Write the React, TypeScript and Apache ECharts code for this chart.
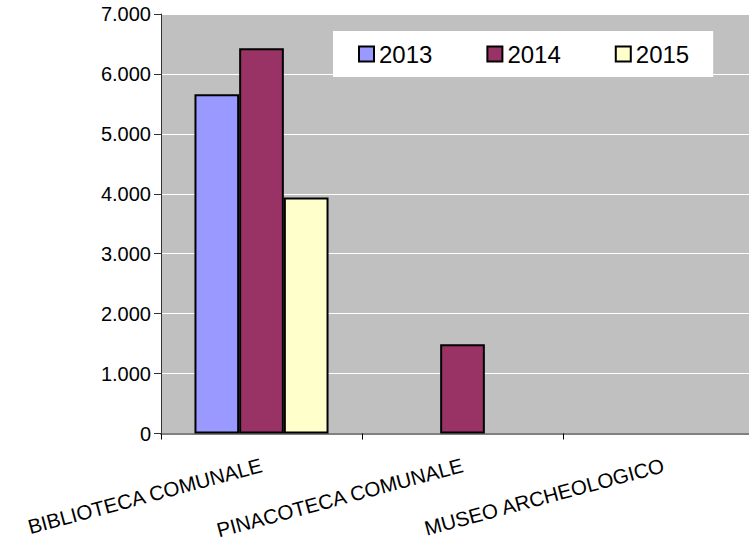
import React, { useEffect, useRef } from "react";
import * as echarts from "echarts";

const categories = ["BIBLIOTECA COMUNALE", "PINACOTECA COMUNALE", "MUSEO ARCHEOLOGICO"];
const seriesNames = ["2013", "2014", "2015"];
const values2013 = [5660, null, null];
const values2014 = [6430, 1490, null];
const values2015 = [3940, null, null];
const colors = ["#9999FF", "#993366", "#FFFFCC"];

const fmt = (v: number) => String(v).replace(/\B(?=(\d{3})+(?!\d))/g, ".");

export default function App() {
  const ref = useRef<HTMLDivElement>(null);
  useEffect(() => {
    if (!ref.current) return;
    const chart = echarts.init(ref.current, null, { renderer: "svg" });
    const data = [values2013, values2014, values2015];
    chart.setOption({
      animation: false,
      textStyle: { fontFamily: "Liberation Sans, Arial, sans-serif", color: "#000" },
      grid: {
        left: 161,
        top: 14,
        width: 603,
        height: 419.5,
        outerBoundsMode: "none",
        containLabel: false,
        show: true,
        backgroundColor: "#C0C0C0",
        borderWidth: 0,
      },
      legend: {
        left: 333,
        top: 31,
        padding: [11, 24, 11, 25],
        backgroundColor: "#fff",
        itemGap: 54,
        itemWidth: 15,
        itemHeight: 15,
        icon: "rect",
        textStyle: { fontSize: 24, color: "#000", fontFamily: "Liberation Sans, Arial, sans-serif" },
        data: seriesNames,
      },
      xAxis: {
        type: "category",
        data: categories,
        axisLine: { lineStyle: { color: "#808080", width: 2 } },
        axisTick: { show: true, length: 6, lineStyle: { color: "#000" } },
        axisLabel: { interval: 0, rotate: 15, margin: 31, fontSize: 20.5, color: "#000" },
        splitLine: { show: false },
      },
      yAxis: {
        type: "value",
        min: 0,
        max: 7000,
        interval: 1000,
        axisLine: { show: true, lineStyle: { color: "#333", width: 1 } },
        axisTick: { show: true, length: 7, lineStyle: { color: "#333" } },
        axisLabel: { fontSize: 20, color: "#000", margin: 10, formatter: (v: number) => fmt(v) },
        splitLine: { show: true, lineStyle: { color: "#fff", width: 1 } },
      },
      series: seriesNames.map((name, i) => ({
        name,
        type: "bar",
        data: data[i],
        barGap: "0%",
        barCategoryGap: "33.3%",
        itemStyle: { color: colors[i], borderColor: "#000", borderWidth: 2 },
      })),
    });
    return () => chart.dispose();
  }, []);
  return (
    <div
      style={{ position: "absolute", left: 0, top: 0, width: 749, height: 546, overflow: "hidden", background: "#fff" }}
    >
      <div ref={ref} style={{ width: 749, height: 546 }} />
    </div>
  );
}
